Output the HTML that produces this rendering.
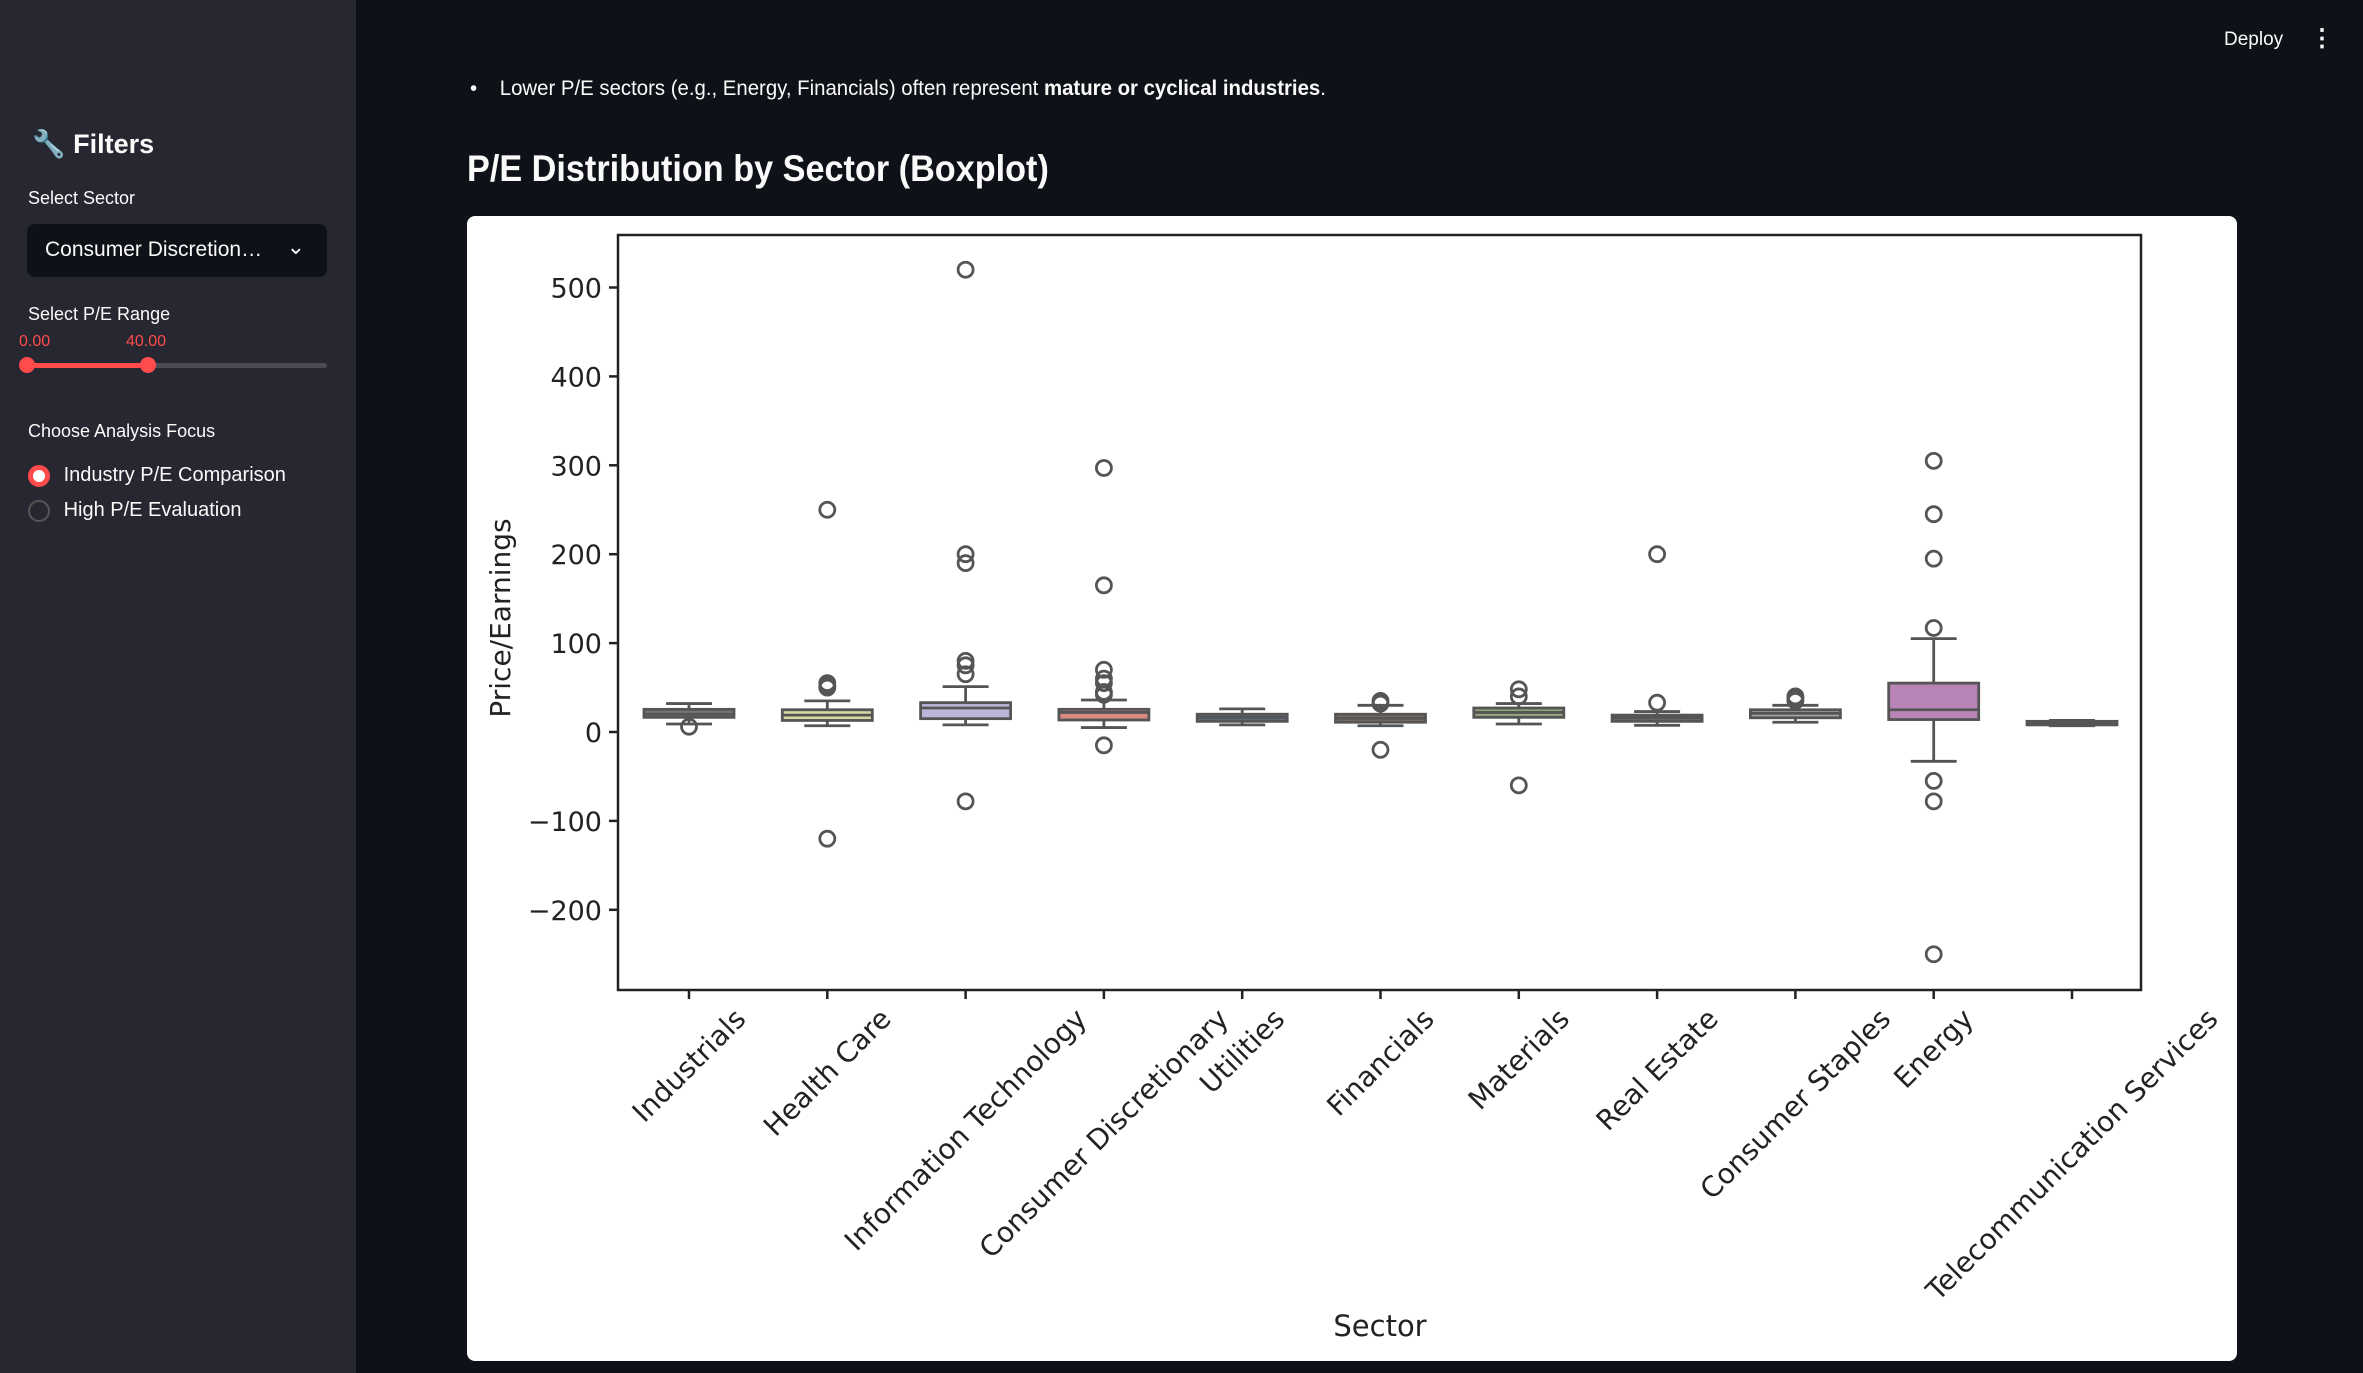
<!DOCTYPE html>
<html><head><meta charset="utf-8">
<style>
html,body{margin:0;padding:0;width:2363px;height:1373px;overflow:hidden;background:#0e1117;font-family:"Liberation Sans",sans-serif;}
#sidebar{position:absolute;left:0;top:0;width:356px;height:1373px;background:#262730;color:#fafafa;}
.lbl{position:absolute;left:28px;font-size:18px;color:#fafafa;}
</style></head><body>
<div id="sidebar">
  <div style="position:absolute;left:32px;top:128px;font-size:27px;font-weight:bold;">🔧&nbsp;Filters</div>
  <div class="lbl" style="top:188px;">Select Sector</div>
  <div style="position:absolute;left:27px;top:224px;width:300px;height:53px;background:#0e1117;border-radius:8px;">
    <span style="position:absolute;left:18px;top:14px;font-size:21px;">Consumer Discretion…</span>
    <span style="position:absolute;right:22px;top:10px;font-size:22px;">&#8964;</span>
  </div>
  <div class="lbl" style="top:304px;">Select P/E Range</div>
  <div style="position:absolute;left:19px;top:333px;font-size:16px;color:#ff4b4b;">0.00</div>
  <div style="position:absolute;left:126px;top:333px;font-size:16px;color:#ff4b4b;">40.00</div>
  <div style="position:absolute;left:27px;top:363px;width:300px;height:5px;background:#4a4b55;border-radius:3px;"></div>
  <div style="position:absolute;left:27px;top:363px;width:121px;height:5px;background:#ff4b4b;"></div>
  <div style="position:absolute;left:19px;top:357px;width:16px;height:16px;border-radius:50%;background:#ff4b4b;"></div>
  <div style="position:absolute;left:140px;top:357px;width:16px;height:16px;border-radius:50%;background:#ff4b4b;"></div>
  <div class="lbl" style="top:421px;">Choose Analysis Focus</div>
  <div style="position:absolute;left:28px;top:464px;font-size:20px;">
    <span style="display:inline-block;width:12px;height:12px;border-radius:50%;background:#fff;border:5px solid #ff4b4b;vertical-align:middle;"></span>
    <span style="vertical-align:middle;margin-left:8px;">Industry P/E Comparison</span></div>
  <div style="position:absolute;left:28px;top:499px;font-size:20px;">
    <span style="display:inline-block;width:18px;height:18px;border-radius:50%;border:2px solid #555;vertical-align:middle;"></span>
    <span style="vertical-align:middle;margin-left:8px;">High P/E Evaluation</span></div>
</div>
<div style="position:absolute;left:2224px;top:29px;color:#fafafa;font-size:19px;">Deploy</div>
<div style="position:absolute;left:2310px;top:24px;color:#fafafa;font-size:24px;font-weight:bold;">&#8942;</div>
<div style="position:absolute;left:470px;top:77px;color:#fafafa;font-size:21px;transform:scaleX(0.97);transform-origin:left;white-space:nowrap;">•&nbsp;&nbsp;&nbsp;&nbsp;Lower P/E sectors (e.g., Energy, Financials) often represent <b>mature or cyclical industries</b>.</div>
<div style="position:absolute;left:467px;top:148px;color:#fafafa;font-size:37px;font-weight:bold;transform:scaleX(0.925);transform-origin:left;white-space:nowrap;">P/E Distribution by Sector (Boxplot)</div>
<div style="position:absolute;left:467px;top:216px;width:1770px;height:1145px;background:#fff;border-radius:8px;"></div>
<svg id="chart" width="2363" height="1373" style="position:absolute;left:0;top:0;font-family:'DejaVu Sans',sans-serif;"></svg>
<script>
const categories=["Industrials","Health Care","Information Technology","Consumer Discretionary","Utilities","Financials","Materials","Real Estate","Consumer Staples","Energy","Telecommunication Services"];
const q1=[16.5,13,15,13.5,12,11,16.5,12,16,14,8];
const medians=[20,19,27,22,16.5,15.5,22,16,21,25,10];
const q3=[25.5,25,33,25.5,20,20,27,19,25,55,12];
const whiskLo=[9,7,8,5,8,7,9,7.5,11,-33,7];
const whiskHi=[32,35,51,36,26,30,32,23,30,105,13];
const outliers=[[6],[50,52,55,250,-120],[65,75,80,190,200,520,-78],[42,45,55,60,70,165,297,-15],[],[32,35,-20],[40,48,-60],[33,200],[35,38,40],[117,195,245,305,-55,-78,-250],[]];
const colors=["#6e7a6c","#d8d8a4","#bab6da","#d98a7e","#5f6d78","#7b6c60","#93a57c","#6a6a6a","#a0aaa0","#b884b5","#6a6a6a"];
const yTicks=[-200,-100,0,100,200,300,400,500];
const X0=618,X1=2141,Y0=235,Y1=990;
const y=v=>732-v*0.889;
const x=i=>689+i*138.3;
const svg=document.getElementById('chart');
const NS='http://www.w3.org/2000/svg';
function mk(t,a){const e=document.createElementNS(NS,t);for(const k in a)e.setAttribute(k,a[k]);svg.appendChild(e);return e;}
let e=mk('rect',{x:X0,y:Y0,width:X1-X0,height:Y1-Y0,fill:'none',stroke:'#222',"stroke-width":2.5});


yTicks.forEach(t=>{
  let l=mk('line',{x1:X0-9,x2:X0,y1:y(t),y2:y(t),stroke:'#222',"stroke-width":2.5});
  
  
  let tx=mk('text',{x:X0-16,y:y(t)+10,"text-anchor":"end","font-size":27,fill:'#222'});
  tx.textContent=t<0?'\u2212'+(-t):t;
  
  
});
const bw=90,cw=46,G='#555',SW=2.8;
categories.forEach((c,i)=>{
  const cx=x(i);
  let tk=mk('line',{x1:cx,x2:cx,y1:Y1,y2:Y1+9,stroke:'#222',"stroke-width":2.5});
  
  
  let w=mk('line',{x1:cx,x2:cx,y1:y(whiskHi[i]),y2:y(whiskLo[i]),stroke:G,"stroke-width":SW});
  
  
  [whiskHi[i],whiskLo[i]].forEach(v=>{
    let cap=mk('line',{x1:cx-cw/2,x2:cx+cw/2,y1:y(v),y2:y(v),stroke:G,"stroke-width":SW});
    
    
  });
  let b=mk('rect',{x:cx-bw/2,y:y(q3[i]),width:bw,height:y(q1[i])-y(q3[i]),fill:colors[i],stroke:G,"stroke-width":SW});
  
  
  let m=mk('line',{x1:cx-bw/2,x2:cx+bw/2,y1:y(medians[i]),y2:y(medians[i]),stroke:G,"stroke-width":SW});
  
  
  outliers[i].forEach(v=>{
    let o=mk('circle',{cx:cx,cy:y(v),r:7.5,fill:'none',stroke:G,"stroke-width":SW});
    
    
  });
  let t=mk('text',{x:0,y:0,"text-anchor":"middle","dominant-baseline":"central","font-size":28,fill:'#222'});
  t.textContent=c;
  
  
  const L=t.getComputedTextLength();
  const bh=(L+28)*0.7071;
  const ly=Y1+14+bh/2;
  t.setAttribute('x',cx);
  t.setAttribute('y',ly);
  t.setAttribute('transform',`rotate(-45 ${cx} ${ly})`);
});
let yl=mk('text',{x:510,y:618,"text-anchor":"middle","font-size":28,fill:'#222',transform:'rotate(-90 510 618)'});
yl.textContent='Price/Earnings';


let xl=mk('text',{x:1380,y:1336,"text-anchor":"middle","font-size":29,fill:'#222'});
xl.textContent='Sector';


</script>
</body></html>
